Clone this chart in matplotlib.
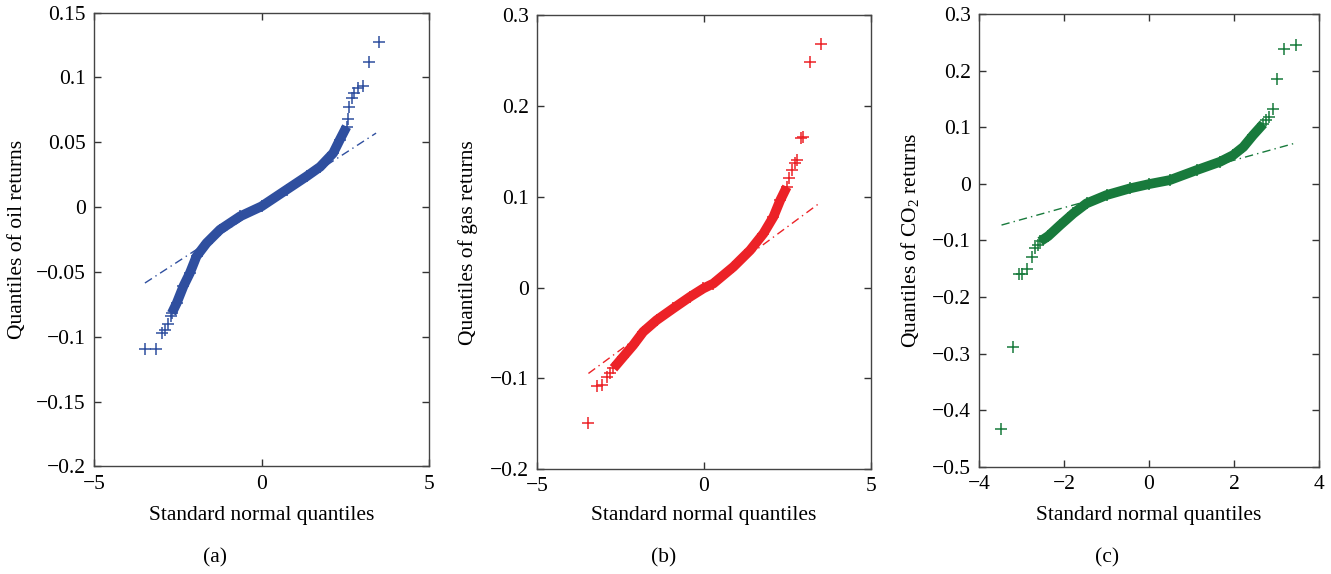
import matplotlib
matplotlib.use('Agg')
import matplotlib.pyplot as plt

plt.rcParams['font.family'] = ['Liberation Serif', 'DejaVu Serif']
plt.rcParams['mathtext.fontset'] = 'custom'
plt.rcParams['mathtext.rm'] = 'Liberation Serif'
plt.rcParams['mathtext.it'] = 'Liberation Serif:italic'

# (a) oil returns: dense part of the qq curve, outlying '+' points, reference line
oil_band_x = [-2.68, -2.53, -2.33, -2.14, -1.94, -1.64, -1.24, -0.64, 0.0, 0.75, 1.35, 1.75, 2.14, 2.34, 2.54]
oil_band_y = [-0.082, -0.074, -0.061, -0.051, -0.038, -0.0278, -0.0175, -0.0072, 0.0005, 0.0134, 0.0237, 0.031, 0.0416, 0.052, 0.062]
oil_pts_x = [-3.48, -3.15, -2.98, -2.88, -2.78, -2.70, 2.57, 2.62, 2.69, 2.76, 2.89, 3.02, 3.20, 3.52]
oil_pts_y = [-0.1095, -0.1095, -0.097, -0.0946, -0.090, -0.084, 0.068, 0.077, 0.084, 0.088, 0.0918, 0.0936, 0.1116, 0.127]
oil_fit_x = [-3.48, 3.42]
oil_fit_y = [-0.0586, 0.0570]

# (b) gas returns
gas_band_x = [-2.71, -2.42, -2.12, -1.82, -1.42, -0.92, -0.42, -0.02, 0.28, 0.88, 1.38, 1.78, 2.08, 2.28, 2.48]
gas_band_y = [-0.089, -0.0764, -0.0635, -0.0488, -0.036, -0.023, -0.0103, -0.001, 0.0044, 0.0228, 0.041, 0.0595, 0.078, 0.096, 0.111]
gas_pts_x = [-3.46, -3.19, -3.06, -2.91, -2.80, 2.55, 2.62, 2.72, 2.79, 2.89, 2.97, 3.17, 3.49]
gas_pts_y = [-0.149, -0.1087, -0.1076, -0.0984, -0.094, 0.121, 0.129, 0.137, 0.140, 0.165, 0.166, 0.249, 0.268]
gas_fit_x = [-3.46, 3.47]
gas_fit_y = [-0.0947, 0.0933]

# (c) CO2 returns
co2_band_x = [-2.56, -2.37, -2.09, -1.78, -1.47, -1.0, -0.45, 0.0, 0.49, 1.12, 1.67, 1.98, 2.22, 2.45, 2.69]
co2_band_y = [-0.102, -0.0924, -0.073, -0.0524, -0.0347, -0.020, -0.0082, -0.0006, 0.0065, 0.0241, 0.0388, 0.0506, 0.065, 0.086, 0.106]
co2_pts_x = [-3.49, -3.21, -3.07, -3.0, -2.88, -2.76, -2.68, -2.62, 2.75, 2.83, 2.91, 3.02, 3.18, 3.47]
co2_pts_y = [-0.434, -0.289, -0.160, -0.159, -0.151, -0.130, -0.114, -0.108, 0.112, 0.118, 0.132, 0.185, 0.238, 0.246]
co2_fit_x = [-3.47, 3.47]
co2_fit_y = [-0.073, 0.0724]

W, H = 1331, 574
fig = plt.figure(figsize=(W / 100, H / 100), dpi=100)
FS = 15.5

panels = [
    dict(box=(94, 429, 12.5, 466.4), xlim=(-5, 5), xticks=[-5, 0, 5],
         ylim=(-0.2, 0.15), yticks=[-0.2, -0.15, -0.1, -0.05, 0, 0.05, 0.1, 0.15],
         color='#2f4f9f', ylabel='Quantiles of oil returns', ylab_x=17, cap='(a)', cap_x=215,
         band=(oil_band_x, oil_band_y), pts=(oil_pts_x, oil_pts_y), fit=(oil_fit_x, oil_fit_y)),
    dict(box=(537, 871, 15.3, 469), xlim=(-5, 5), xticks=[-5, 0, 5],
         ylim=(-0.2, 0.3), yticks=[-0.2, -0.1, 0, 0.1, 0.2, 0.3],
         color='#ec2227', ylabel='Quantiles of gas returns', ylab_x=468, cap='(b)', cap_x=664,
         band=(gas_band_x, gas_band_y), pts=(gas_pts_x, gas_pts_y), fit=(gas_fit_x, gas_fit_y)),
    dict(box=(979, 1319, 14, 466.7), xlim=(-4, 4), xticks=[-4, -2, 0, 2, 4],
         ylim=(-0.5, 0.3), yticks=[-0.5, -0.4, -0.3, -0.2, -0.1, 0, 0.1, 0.2, 0.3],
         color='#187a3c', ylabel='Quantiles of CO$_2$ returns', ylab_x=911, cap='(c)', cap_x=1107,
         band=(co2_band_x, co2_band_y), pts=(co2_pts_x, co2_pts_y), fit=(co2_fit_x, co2_fit_y)),
]

for p in panels:
    l, r, t, b = p['box']
    ax = fig.add_axes([l / W, 1 - b / H, (r - l) / W, (b - t) / H])
    c = p['color']
    ax.plot(p['fit'][0], p['fit'][1], color=c, lw=1.0, linestyle=(0, (6, 3, 1, 3)), zorder=1)
    ax.plot(p['band'][0], p['band'][1], color=c, lw=7, solid_capstyle='butt', zorder=2)
    ax.plot(p['band'][0], p['band'][1], '+', color=c, ms=9, mew=1.1, zorder=3)
    ax.plot(p['pts'][0], p['pts'][1], '+', color=c, ms=9, mew=1.1, zorder=3)
    ax.set_xlim(p['xlim'])
    ax.set_ylim(p['ylim'])
    ax.set_xticks(p['xticks'])
    ax.set_yticks(p['yticks'])
    ax.set_yticklabels(['%g' % v if v >= 0 else '\u2212%g' % -v for v in p['yticks']])
    ax.tick_params(direction='in', top=True, right=True, length=5, width=1,
                   labelsize=FS, color='#333333', pad=6)
    for s in ax.spines.values():
        s.set_color('#444444')
        s.set_linewidth(1.0)
    ax.set_xlabel('Standard normal quantiles', fontsize=FS)
    ax.xaxis.set_label_coords(0.5, -(506 - b) / (b - t))
    ax.xaxis.label.set_va('top')
    ax.set_ylabel(p['ylabel'], fontsize=FS)
    ax.yaxis.set_label_coords(-(l - p['ylab_x'] - 10) / (r - l), 0.5)
    fig.text(p['cap_x'] / W, 1 - 558 / H, p['cap'], fontsize=FS, ha='center', va='center')

fig.savefig('out.png', dpi=100)
